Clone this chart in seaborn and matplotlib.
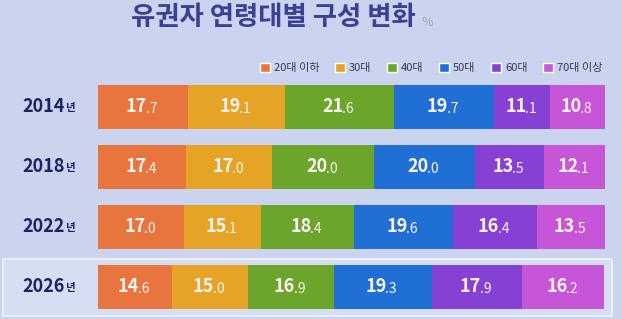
import numpy as np
import pandas as pd
import seaborn as sns
import matplotlib.pyplot as plt
from matplotlib.patches import Patch, Rectangle

# data (percent of voters by age group)
years = ["2014", "2018", "2022", "2026"]
groups = ["20대 이하", "30대", "40대", "50대", "60대", "70대 이상"]
v_20s = [17.7, 17.4, 17.0, 14.6]
v_30s = [19.1, 17.0, 15.1, 15.0]
v_40s = [21.6, 20.0, 18.4, 16.9]
v_50s = [19.7, 20.0, 19.6, 19.3]
v_60s = [11.1, 13.5, 16.4, 17.9]
v_70s = [10.8, 12.1, 13.5, 16.2]

colors = ["#e8743e", "#e6a426", "#6ba52c", "#1f6fd4", "#8640d4", "#c655d8"]

sns.set_theme(style="white")
plt.rcParams['font.family'] = ['Noto Sans CJK KR', 'DejaVu Sans']

vals = np.array([v_20s, v_30s, v_40s, v_50s, v_60s, v_70s]).T
cum = np.cumsum(vals, axis=1)

fig = plt.figure(figsize=(6.22, 3.19), dpi=100)
fig.patch.set_facecolor("#cad4ee")

# highlight box around the last row (behind the axes)
box = Rectangle((3 / 622, 3 / 319), 609 / 622, 57 / 319, transform=fig.transFigure,
                facecolor="#d6def3", edgecolor="#f2f4fb", linewidth=1.2, zorder=-5)
fig.add_artist(box)

ax = fig.add_axes([98 / 622, 2 / 319, 507 / 622, 240 / 319])
ax.set_facecolor("none")
ax.set_zorder(2)

# stacked bars: draw cumulative totals from the widest to the narrowest
for i in reversed(range(len(groups))):
    df = pd.DataFrame({"year": years, "cum": cum[:, i]})
    sns.barplot(data=df, x="cum", y="year", color=colors[i], orient="h",
                width=0.72, saturation=1, ax=ax, linewidth=0)

ax.set_xlim(0, 100)
ax.set_ylim(3.5, -0.5)
ax.set_xlabel("")
ax.set_ylabel("")
ax.set_xticks([])
ax.set_yticks([])
for s in ax.spines.values():
    s.set_visible(False)

# value labels: big integer part, small decimal part
for r in range(len(years)):
    for i in range(len(groups)):
        center = cum[r, i] - vals[r, i] / 2
        whole, dec = f"{vals[r, i]:.1f}".split(".")
        ax.annotate(whole, (center, r), xytext=(3, 0), textcoords="offset points",
                    ha="right", va="center", fontsize=13, fontweight="bold", color="#fbf2f2")
        ax.annotate("." + dec, (center, r), xytext=(2, -1.5), textcoords="offset points",
                    ha="left", va="center", fontsize=10, color="#fbf2f2")
    # year labels on the left
    ax.annotate(years[r], (0, r), xytext=(-24, 0), textcoords="offset points",
                ha="right", va="center", fontsize=13, fontweight="bold", color="#1d2263")
    ax.annotate("년", (0, r), xytext=(-23, -1), textcoords="offset points",
                ha="left", va="center", fontsize=7.5, fontweight="bold", color="#1d2263")

# title
fig.text(0.44, 0.945, "유권자 연령대별 구성 변화", ha="center", va="center",
         fontsize=19, fontweight="bold", color="#3c3f93")
fig.text(0.677, 0.93, "%", ha="left", va="center", fontsize=9, color="#9aa0c4")

handles = [Patch(facecolor=c, label=g) for c, g in zip(colors, groups)]
fig.legend(handles=handles, loc="center right", bbox_to_anchor=(0.985, 0.787), ncol=6,
           frameon=False, fontsize=8, handlelength=0.9, handleheight=0.9,
           handletextpad=0.4, columnspacing=1.35, labelcolor="#333a5a")

fig.savefig("out.png", dpi=100, facecolor=fig.get_facecolor())
